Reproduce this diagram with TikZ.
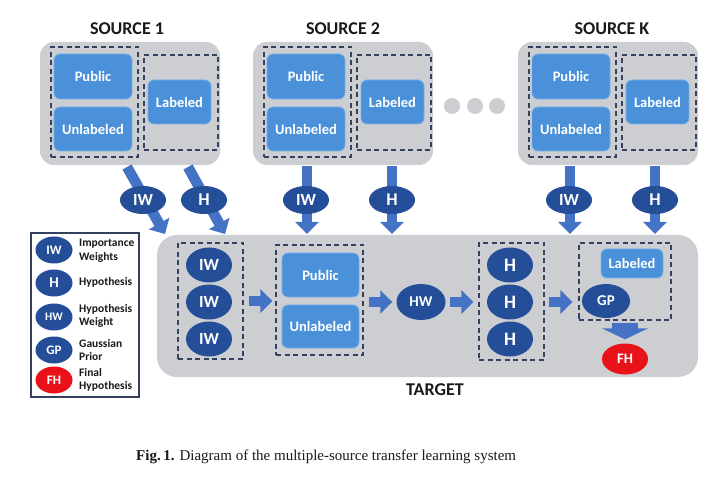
\documentclass[tikz,border=0pt]{standalone}
\usepackage{fontspec}
\setmainfont{Liberation Serif}
\setsansfont{Carlito}
\usetikzlibrary{arrows.meta}
\definecolor{boxgray}{RGB}{204,206,210}
\definecolor{bluebox}{RGB}{74,145,218}
\definecolor{blueedge}{RGB}{120,175,232}
\definecolor{darkblue}{RGB}{36,78,152}
\definecolor{arrowblue}{RGB}{68,114,196}
\definecolor{dashcol}{RGB}{52,66,96}
\definecolor{fhred}{RGB}{232,18,24}
\definecolor{txt}{RGB}{25,25,30}
\tikzset{
  graybox/.style={fill=boxgray, rounded corners=14pt, inner sep=0},
  dbox/.style={draw=dashcol, line width=1.2pt, dash pattern=on 5pt off 3.5pt, inner sep=0},
  bbox/.style={fill=bluebox, draw=blueedge, line width=0.8pt, rounded corners=6pt, inner sep=0,
    text=white, font=\sffamily\bfseries\fontsize{14.5}{15}\selectfont},
  ell/.style={ellipse, fill=darkblue, inner sep=0, text=white, font=\sffamily\bfseries},
  barrow/.style={draw=arrowblue, line width=10.5pt, -{Triangle[width=23pt,length=12pt]}, arrowblue},
  title/.style={font=\sffamily\bfseries\fontsize{18}{18}\selectfont, text=txt},
  legtxt/.style={anchor=west, align=left, inner sep=0, font=\sffamily\bfseries\fontsize{11.5}{13.5}\selectfont, text=txt},
}
\usetikzlibrary{shapes.geometric}
\begin{document}
\begin{tikzpicture}[x=1pt,y=-1pt]
\useasboundingbox (0,0) rectangle (720,486);
\fill[white] (0,0) rectangle (720,486);

% sources
\foreach \i/\s/\t/\tx in {1/0/SOURCE 1/127, 2/213/SOURCE 2/343, K/478/SOURCE K/612}{
  \node[title] (title\i) at (\tx,29) {\t};
  \begin{scope}[xshift=\s pt]
    \node[graybox, minimum width=180pt, minimum height=123pt] (src\i) at (130,103.5) {};
    \node[dbox, minimum width=87pt, minimum height=110pt] (da\i) at (94.5,102) {};
    \node[bbox, minimum width=78pt, minimum height=45pt] (pub\i) at (93,76.5) {Public};
    \node[bbox, minimum width=78pt, minimum height=44pt] (unl\i) at (93,129) {Unlabeled};
    \node[dbox, minimum width=74pt, minimum height=95pt] (db\i) at (181,102.5) {};
    \node[bbox, minimum width=63pt, minimum height=44pt] (lab\i) at (179.5,102) {Labeled};
  \end{scope}
}
% dots
\foreach \j/\x in {1/452,2/475,3/497}{
  \fill[boxgray] (\x,106) circle (8pt) coordinate (dot\j);
}

% target
\node[graybox, rounded corners=20pt, minimum width=541pt, minimum height=142pt] (target) at (427.5,306) {};
\node[title] (tlabel) at (435,390) {TARGET};

% source to target arrows
\coordinate (s1a) at (127,167);
\coordinate (s1b) at (165,234);
\coordinate (s1c) at (188,167);
\coordinate (s1d) at (225,234);
\draw[barrow] (s1a) -- (s1b);
\draw[barrow] (s1c) -- (s1d);
\node[ell, minimum width=46pt, minimum height=28pt, font=\sffamily\bfseries\fontsize{17}{17}\selectfont] (iw1) at (143,200) {IW};
\node[ell, minimum width=46pt, minimum height=28pt, font=\sffamily\bfseries\fontsize{18}{18}\selectfont] (h1) at (204,200) {H};

\foreach \i/\xa/\xb in {2/307/392, K/570/655}{
  \draw[barrow] (\xa,166) -- (\xa,234);
  \draw[barrow] (\xb,166) -- (\xb,234);
  \node[ell, minimum width=46pt, minimum height=28pt, font=\sffamily\bfseries\fontsize{17}{17}\selectfont] (iw\i) at (\xa-1,200) {IW};
  \node[ell, minimum width=46pt, minimum height=28pt, font=\sffamily\bfseries\fontsize{18}{18}\selectfont] (h\i) at (\xb,200) {H};
}

% target contents
\node[dbox, minimum width=65pt, minimum height=116pt] (td1) at (210.5,301) {};
\foreach \k/\y in {1/265,2/302,3/339}{
  \node[ell, minimum width=46pt, minimum height=35pt, font=\sffamily\bfseries\fontsize{17}{17}\selectfont] (tiw\k) at (209,\y) {IW};
}
\node[dbox, minimum width=87pt, minimum height=110pt] (td2) at (319.5,300) {};
\node[bbox, minimum width=77pt, minimum height=44pt] (tpub) at (320.5,275) {Public};
\node[bbox, minimum width=77pt, minimum height=43pt] (tunl) at (320.5,326.5) {Unlabeled};
\node[ell, minimum width=49pt, minimum height=36pt, font=\sffamily\bfseries\fontsize{15}{15}\selectfont] (hw) at (421,302) {HW};
\node[dbox, minimum width=65pt, minimum height=117pt] (td3) at (511.5,301.5) {};
\foreach \k/\y in {1/265,2/302,3/339}{
  \node[ell, minimum width=46pt, minimum height=35pt, font=\sffamily\bfseries\fontsize{19}{19}\selectfont] (th\k) at (510,\y) {H};
}
\node[dbox, minimum width=92pt, minimum height=77pt] (td4) at (625,281.5) {};
\node[bbox, minimum width=62pt, minimum height=29pt] (tlab) at (632,263.5) {Labeled};
\node[ell, minimum width=48pt, minimum height=34pt, font=\sffamily\bfseries\fontsize{15}{15}\selectfont] (gp) at (606,301) {GP};
\node[ell, fill=fhred, minimum width=46pt, minimum height=31pt, font=\sffamily\bfseries\fontsize{14.5}{14.5}\selectfont] (fh) at (625,359) {FH};

\draw[barrow, shorten <=5pt, shorten >=3pt] (td1.east) -- (td2.west |- td1.east);
\draw[barrow, shorten <=5pt, shorten >=4pt] (td2.east |- hw) -- (hw.west);
\draw[barrow, shorten <=4pt, shorten >=5pt] (hw.east) -- (td3.west |- hw);
\draw[barrow, shorten <=4pt, shorten >=6pt] (td3.east |- hw) -- (td4.west |- hw);
\draw[draw=arrowblue, line width=26pt, -{Triangle[width=46pt,length=11pt]}, arrowblue, shorten <=2pt, shorten >=4pt] (td4.south) -- (fh.north);

% legend
\node[draw=dashcol, line width=1.5pt, fill=white, minimum width=108pt, minimum height=164pt, inner sep=0] (legend) at (85,315) {};
\node[ell, minimum width=37pt, minimum height=27pt, font=\sffamily\bfseries\fontsize{13}{13}\selectfont] (liw) at (54,250) {IW};
\node[ell, minimum width=37pt, minimum height=27pt, font=\sffamily\bfseries\fontsize{15}{15}\selectfont] (lh) at (54,283) {H};
\node[ell, minimum width=37pt, minimum height=27pt, font=\sffamily\bfseries\fontsize{11.5}{12}\selectfont] (lhw) at (54,317) {HW};
\node[ell, minimum width=37pt, minimum height=27pt, font=\sffamily\bfseries\fontsize{13}{13}\selectfont] (lgp) at (54,350) {GP};
\node[ell, fill=fhred, minimum width=37pt, minimum height=27pt, font=\sffamily\bfseries\fontsize{13}{13}\selectfont] (lfh) at (54,380) {FH};
\node[legtxt] (tiwl) at (79,250.5) {Importance\\Weights};
\node[legtxt] (thl) at (79,282) {Hypothesis};
\node[legtxt] (thwl) at (79,316) {Hypothesis\\Weight};
\node[legtxt] (tgpl) at (79,350) {Gaussian\\Prior};
\node[legtxt] (tfhl) at (79,380) {Final\\Hypothesis};

% caption
\node[anchor=west, inner sep=0, font=\fontsize{15}{16}\selectfont, text=txt] (caption) at (136,457) {\textbf{Fig.\,1.} Diagram of the multiple-source transfer learning system};
\end{tikzpicture}
\end{document}
